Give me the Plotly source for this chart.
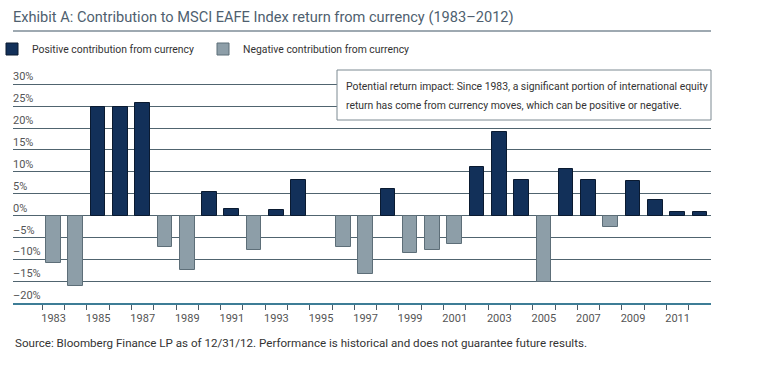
import plotly.graph_objects as go

years = list(range(1983, 2013))
values = [-10.9, -16.1, 24.7, 24.7, 25.7, -7.1, -12.4, 5.3, 1.5, -7.8,
          1.2, 8.2, 0.0, -7.1, -13.3, 6.0, -8.5, -7.8, -6.5, 11.2,
          19.1, 8.2, -15.1, 10.6, 8.2, -2.7, 7.9, 3.6, 0.7, 0.7]

y_tickvals = [30, 25, 20, 15, 10, 5, 0, -5, -10, -15, -20]
y_ticktext = ["30%", "25%", "20%", "15%", "10%", "5%", "0%", "–5%", "–10%", "–15%", "–20%"]
x_tickvals = list(range(1983, 2012, 2))
x_ticktext = [str(y) for y in x_tickvals]
x_boundaries = [y + 0.5 for y in range(1982, 2012)]

title_text = "Exhibit A: Contribution to MSCI EAFE Index return from currency (1983–2012)"
box_lines = ["Potential return impact: Since 1983, a significant portion of international equity",
             "return has come from currency moves, which can be positive or negative."]
source_text = "Source: Bloomberg Finance LP as of 12/31/12. Performance is historical and does not guarantee future results."

pos_years = [y for y, v in zip(years, values) if v > 0]
pos_vals = [v for v in values if v > 0]
neg_years = [y for y, v in zip(years, values) if v < 0]
neg_vals = [v for v in values if v < 0]

FONT = "Roboto, Liberation Sans, sans-serif"
NAVY = "#123059"
GRAY = "#8d9ea8"

fig = go.Figure()
fig.add_trace(go.Bar(x=pos_years, y=pos_vals, name="Positive contribution from currency",
                     marker=dict(color=NAVY, line=dict(color="#0a1a30", width=1)), width=0.66))
fig.add_trace(go.Bar(x=neg_years, y=neg_vals, name="Negative contribution from currency",
                     marker=dict(color=GRAY, line=dict(color="#5d6e78", width=1)), width=0.66))

W, H = 761, 370
L, R, T, B = 13, 50, 69, 67
ph = H - T - B
pw = W - L - R

def py(px):  # pixel from top -> paper y
    return (H - B - px) / ph

def pxx(px):  # pixel from left -> paper x
    return (px - L) / pw

fig.update_layout(
    width=W, height=H,
    margin=dict(l=L, r=R, t=T, b=B, pad=0, autoexpand=False),
    paper_bgcolor="white", plot_bgcolor="white",
    font=dict(family=FONT, size=11, color="#444"),
    barmode="overlay",
    bargap=0,
    title=dict(text=title_text, x=L / W, xanchor="left", y=1 - 17 / H, yanchor="middle",
               font=dict(family=FONT, size=14.6, color="#4f5f6f")),
    legend=dict(orientation="h", x=pxx(-8), xanchor="left", y=py(49), yanchor="middle",
                font=dict(family=FONT, size=10.4, color="#333"),
                entrywidth=166, entrywidthmode="pixels", itemwidth=30,
                bgcolor="rgba(0,0,0,0)"),
    xaxis=dict(range=[1981.18, 2012.5], tickmode="array", tickvals=x_tickvals, ticktext=x_ticktext,
               ticks="", showgrid=False, zeroline=False, showline=True, linecolor="#3d7d96", linewidth=1.5,
               ticklabelstandoff=4,
               tickfont=dict(family=FONT, size=11, color="#555"),
               minor=dict(tickmode="array", tickvals=x_boundaries, ticks="outside", ticklen=5,
                          tickcolor="#4a5a66", tickwidth=1, showgrid=False)),
    yaxis=dict(range=[-20, 33.5], tickmode="array", tickvals=y_tickvals, ticktext=y_ticktext,
               ticklabelposition="inside top", ticks="", showgrid=True, gridcolor="#50646f", gridwidth=1,
               ticklabelstandoff=-3,
               zeroline=True, zerolinecolor="#50646f", zerolinewidth=1, showline=False,
               tickfont=dict(family=FONT, size=11, color="#555")),
    showlegend=True,
)

# title underline
fig.add_shape(type="line", xref="paper", yref="paper", x0=0, x1=pxx(711), y0=py(31), y1=py(31),
              line=dict(color="#3e5564", width=1.2))
# annotation box
fig.add_shape(type="rect", xref="paper", yref="paper", x0=pxx(337), x1=pxx(711), y0=py(120), y1=py(70),
              fillcolor="white", line=dict(color="#7d8a92", width=1), layer="above")
fig.add_annotation(text=box_lines[0], xref="paper", yref="paper", x=pxx(344), y=py(87),
                   xanchor="left", yanchor="middle", showarrow=False,
                   font=dict(family=FONT, size=10.4, color="#333"))
fig.add_annotation(text=box_lines[1], xref="paper", yref="paper", x=pxx(344), y=py(105),
                   xanchor="left", yanchor="middle", showarrow=False,
                   font=dict(family=FONT, size=10.4, color="#333"))
fig.add_annotation(text=source_text, xref="paper", yref="paper", x=0, y=py(343),
                   xanchor="left", yanchor="middle", showarrow=False,
                   font=dict(family=FONT, size=11.6, color="#333"))

fig.write_html("out.html", config={"displayModeBar": False},
               post_script="document.body.style.margin='0';")
